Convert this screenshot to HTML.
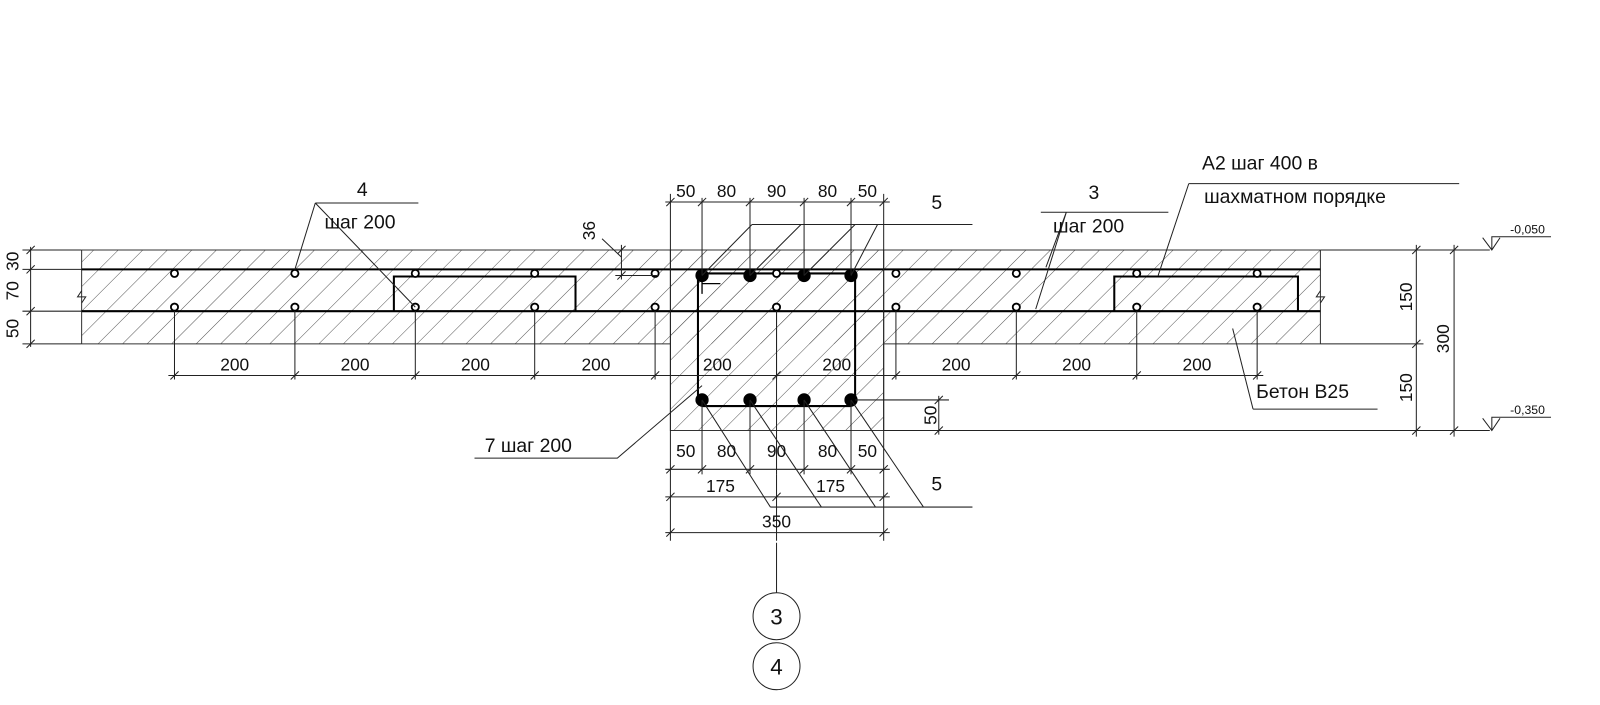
<!DOCTYPE html>
<html><head><meta charset="utf-8"><style>
html,body{margin:0;padding:0;background:#fff}
svg{display:block}
text{font-family:"Liberation Sans","DejaVu Sans",sans-serif;fill:#111}
</style></head><body>
<svg width="1600" height="705" viewBox="0 0 1568 691" preserveAspectRatio="none" xmlns="http://www.w3.org/2000/svg">
<defs>
<pattern id="h" patternUnits="userSpaceOnUse" width="17" height="17" patternTransform="rotate(45)">
<line x1="0" y1="0" x2="0" y2="17" stroke="#555" stroke-width="1"/>
</pattern>
</defs>
<rect x="80" y="245" width="1214" height="92" fill="url(#h)"/>
<rect x="657" y="245" width="209" height="177" fill="url(#h)"/>
<g stroke="#333" stroke-width="1" fill="none">
<path d="M80 245H1294M80 337H657V422H866V337H1294M80 245V337M1294 245V337M657 245V337M866 245V337"/>
</g>
<g stroke="#000" stroke-width="2" fill="none">
<path d="M80 264H1294M80 305H1294"/>
<path d="M386 305V271H564V305M1092 305V271H1272V305"/>
<rect x="684" y="268" width="154" height="130" rx="5"/>
<path d="M688 270V288M688 278H706" stroke-width="1.3"/>
</g>
<g stroke="#000" stroke-width="1.8" fill="#fff">
<circle cx="171" cy="268" r="3.5"/><circle cx="289" cy="268" r="3.5"/><circle cx="407" cy="268" r="3.5"/><circle cx="524" cy="268" r="3.5"/><circle cx="642" cy="268" r="3.5"/><circle cx="761" cy="268" r="3.5"/><circle cx="878" cy="268" r="3.5"/><circle cx="996" cy="268" r="3.5"/><circle cx="1114" cy="268" r="3.5"/><circle cx="1232" cy="268" r="3.5"/>
<circle cx="171" cy="301" r="3.5"/><circle cx="289" cy="301" r="3.5"/><circle cx="407" cy="301" r="3.5"/><circle cx="524" cy="301" r="3.5"/><circle cx="642" cy="301" r="3.5"/><circle cx="761" cy="301" r="3.5"/><circle cx="878" cy="301" r="3.5"/><circle cx="996" cy="301" r="3.5"/><circle cx="1114" cy="301" r="3.5"/><circle cx="1232" cy="301" r="3.5"/>
</g>
<g fill="#000">
<circle cx="688" cy="270" r="6.5"/><circle cx="735" cy="270" r="6.5"/><circle cx="788" cy="270" r="6.5"/><circle cx="834" cy="270" r="6.5"/>
<circle cx="688" cy="392" r="6.5"/><circle cx="735" cy="392" r="6.5"/><circle cx="788" cy="392" r="6.5"/><circle cx="834" cy="392" r="6.5"/>
</g>
<g stroke="#222" stroke-width="1" fill="none">
<path d="M30 242V340M22 245H80M22 264H80M22 305H80M22 337H80" />
<path d="M26 249l8-8M26 268l8-8M26 309l8-8M26 341l8-8"/>
<path d="M165 368H1238"/>
<path d="M171 305V372M289 305V372M407 305V372M524 305V372M642 305V372M761 305V372M878 305V372M996 305V372M1114 305V372M1232 305V372"/>
<path d="M167 372l8-8M285 372l8-8M403 372l8-8M520 372l8-8M638 372l8-8M757 372l8-8M874 372l8-8M992 372l8-8M1110 372l8-8M1228 372l8-8"/>
<path d="M652 198H872M657 190V530M866 190V530M688 194V270M735 194V270M788 194V270M834 194V270"/>
<path d="M653 202l8-8M684 202l8-8M731 202l8-8M784 202l8-8M830 202l8-8M862 202l8-8"/>
<path d="M652 460H872M688 392V465M735 392V465M788 392V465M834 392V465M761 305V465"/>
<path d="M653 464l8-8M684 464l8-8M731 464l8-8M784 464l8-8M830 464l8-8M862 464l8-8"/>
<path d="M652 487H872M761 465V530M653 491l8-8M757 491l8-8M862 491l8-8"/>
<path d="M652 522H872M653 526l8-8M862 526l8-8"/>
<path d="M761 532V586"/>
<path d="M838 392H930M866 422H1460M920 388V426M916 396l8-8M916 426l8-8"/>
<path d="M1294 245H1460M1294 337H1395M1388 240V428M1425 240V428"/>
<path d="M1384 249l8-8M1384 341l8-8M1384 426l8-8M1421 249l8-8M1421 426l8-8"/>
<path d="M1453 233L1462 245L1470 233M1462 245V232H1520"/>
<path d="M1453 410L1462 422L1470 410M1462 422V409H1520"/>
<path d="M609 240V274M603 270H645M605 249l8-8M605 274l8-8M590 234L609 252"/>
<path d="M309 199H410M309 199L289 264M309 199L407 301"/>
<path d="M1020 208H1145M1045 208L1025 262M1045 208L1015 303"/>
<path d="M1165 180H1430M1165 180L1135 270"/>
<path d="M1228 401H1350M1228 401L1208 322"/>
<path d="M465 449H605L688 378"/>
<path d="M737 220H953M737 220L688 270M785 220L735 270M838 220L788 270M860 220L834 270"/>
<path d="M755 497H953M688 392L755 497M735 392L805 497M788 392L858 497M834 392L905 497"/>
<path d="M80 285l-4 6 8 0-4 6M1294 285l-4 6 8 0-4 6"/>
</g>
<g stroke="#222" stroke-width="1" fill="#fff">
<circle cx="761" cy="604" r="23"/><circle cx="761" cy="653" r="23"/>
</g>
<g font-size="17">
<text x="18" y="256" transform="rotate(-90 18 256)" text-anchor="middle">30</text>
<text x="18" y="285" transform="rotate(-90 18 285)" text-anchor="middle">70</text>
<text x="18" y="322" transform="rotate(-90 18 322)" text-anchor="middle">50</text>
<text x="230" y="363" text-anchor="middle">200</text>
<text x="348" y="363" text-anchor="middle">200</text>
<text x="466" y="363" text-anchor="middle">200</text>
<text x="584" y="363" text-anchor="middle">200</text>
<text x="703" y="363" text-anchor="middle">200</text>
<text x="820" y="363" text-anchor="middle">200</text>
<text x="937" y="363" text-anchor="middle">200</text>
<text x="1055" y="363" text-anchor="middle">200</text>
<text x="1173" y="363" text-anchor="middle">200</text>
<text x="672" y="193" text-anchor="middle">50</text>
<text x="712" y="193" text-anchor="middle">80</text>
<text x="761" y="193" text-anchor="middle">90</text>
<text x="811" y="193" text-anchor="middle">80</text>
<text x="850" y="193" text-anchor="middle">50</text>
<text x="672" y="448" text-anchor="middle">50</text>
<text x="712" y="448" text-anchor="middle">80</text>
<text x="761" y="448" text-anchor="middle">90</text>
<text x="811" y="448" text-anchor="middle">80</text>
<text x="850" y="448" text-anchor="middle">50</text>
<text x="706" y="482" text-anchor="middle">175</text>
<text x="814" y="482" text-anchor="middle">175</text>
<text x="761" y="517" text-anchor="middle">350</text>
<text x="918" y="407" transform="rotate(-90 918 407)" text-anchor="middle">50</text>
<text x="583" y="226" transform="rotate(-90 583 226)" text-anchor="middle">36</text>
<text x="1384" y="291" transform="rotate(-90 1384 291)" text-anchor="middle">150</text>
<text x="1384" y="380" transform="rotate(-90 1384 380)" text-anchor="middle">150</text>
<text x="1420" y="332" transform="rotate(-90 1420 332)" text-anchor="middle">300</text>
<text x="355" y="192" text-anchor="middle" font-size="19">4</text>
<text x="318" y="224" font-size="19">шаг 200</text>
<text x="1072" y="195" text-anchor="middle" font-size="19">3</text>
<text x="1032" y="228" font-size="19">шаг 200</text>
<text x="1178" y="166" font-size="19">А2 шаг 400 в</text>
<text x="1180" y="199" font-size="19">шахматном порядке</text>
<text x="1231" y="390" font-size="19">Бетон В25</text>
<text x="475" y="443" font-size="19">7 шаг 200</text>
<text x="918" y="205" text-anchor="middle" font-size="19">5</text>
<text x="918" y="481" text-anchor="middle" font-size="19">5</text>
<text x="1497" y="229" text-anchor="middle" font-size="12">-0,050</text>
<text x="1497" y="406" text-anchor="middle" font-size="12">-0,350</text>
<text x="761" y="612" text-anchor="middle" font-size="22">3</text>
<text x="761" y="661" text-anchor="middle" font-size="22">4</text>
</g>
</svg>
</body></html>
